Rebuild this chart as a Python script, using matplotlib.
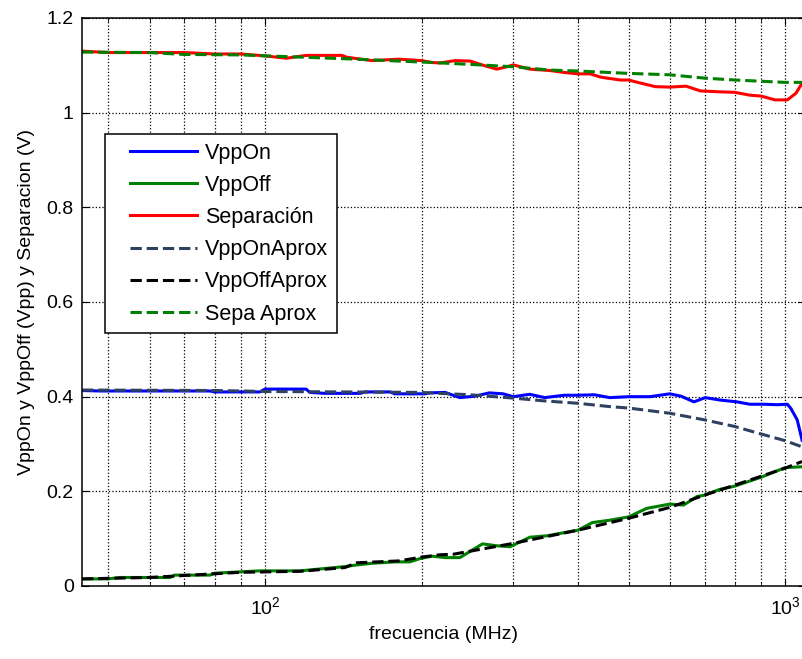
import numpy as np
import matplotlib
matplotlib.use("Agg")
import matplotlib.pyplot as plt
from matplotlib.ticker import FixedLocator, FuncFormatter, LogLocator, NullFormatter
from matplotlib.legend_handler import HandlerLine2D

plt.rcParams['font.family'] = ['Liberation Sans', 'DejaVu Sans']
plt.rcParams['mathtext.fontset'] = 'custom'
plt.rcParams['mathtext.rm'] = 'Liberation Sans'
plt.rcParams['mathtext.it'] = 'Liberation Sans'

# Separacion (red) and its approximation (green dashed)
sep_f = [44.5, 50, 70, 80, 90, 100, 110, 120, 140.6, 143.8, 160.6, 180.9, 200, 209.6,
         217, 232, 248, 265, 279, 292, 300, 323, 353, 376, 400, 422, 442, 482, 500,
         525, 563, 600, 645, 687, 748, 800, 855, 900, 956, 1010, 1049, 1078]
sep_v = [1.130, 1.127, 1.127, 1.124, 1.124, 1.120, 1.115, 1.121, 1.121, 1.117, 1.110,
         1.113, 1.110, 1.106, 1.105, 1.110, 1.109, 1.099, 1.092, 1.097, 1.101, 1.092,
         1.089, 1.085, 1.082, 1.082, 1.075, 1.069, 1.069, 1.063, 1.055, 1.054, 1.056,
         1.046, 1.044, 1.043, 1.037, 1.035, 1.027, 1.027, 1.041, 1.062]

sepa_f = [44.5, 60, 70, 90, 100, 120, 150, 180.9, 209.6, 248, 300, 353, 400, 500,
          600, 700, 800, 1000, 1078]
sepa_v = [1.128, 1.127, 1.123, 1.122, 1.120, 1.117, 1.113, 1.109, 1.106, 1.102,
          1.097, 1.090, 1.088, 1.083, 1.080, 1.073, 1.069, 1.064, 1.064]

# VppOn (blue) and its approximation
on_f = [44.5, 48.2, 78.4, 80, 97.8, 100, 120, 122, 130.4, 152.4, 155.7, 174, 177.7,
        203, 207.6, 222, 237, 253, 270, 287, 300, 323, 345, 376, 400, 430, 460, 502,
        550, 600, 631, 668, 702, 748, 808, 855, 912, 966, 1010, 1026, 1055, 1078]
on_v = [0.413, 0.412, 0.412, 0.410, 0.410, 0.416, 0.416, 0.409, 0.407, 0.407, 0.410,
        0.410, 0.406, 0.406, 0.408, 0.409, 0.398, 0.401, 0.408, 0.406, 0.400, 0.405,
        0.398, 0.403, 0.403, 0.404, 0.398, 0.400, 0.400, 0.406, 0.401, 0.389, 0.398,
        0.393, 0.389, 0.384, 0.384, 0.383, 0.384, 0.375, 0.351, 0.308]

onap_f = [44.5, 80, 100, 200, 207.6, 248, 300, 345, 400, 460, 500, 600, 700, 800,
          900, 1000, 1078]
onap_v = [0.414, 0.413, 0.411, 0.409, 0.408, 0.404, 0.397, 0.391, 0.386, 0.379,
          0.376, 0.365, 0.351, 0.337, 0.321, 0.307, 0.294]

# VppOff (green) and its approximation (black dashed)
off_f = [44.5, 50, 52.6, 65.7, 67.1, 78.4, 80, 90, 97.8, 116.8, 127.6, 142.5, 148.9,
         160.6, 177.7, 190, 198.7, 209.6, 222, 237, 262, 279, 296, 323, 348, 400,
         426, 460, 500, 542, 600, 638, 677, 700, 748, 800, 900, 1000, 1078]
off_v = [0.015, 0.015, 0.018, 0.018, 0.023, 0.023, 0.027, 0.030, 0.032, 0.032, 0.036,
         0.041, 0.044, 0.048, 0.051, 0.051, 0.058, 0.063, 0.060, 0.060, 0.089, 0.085,
         0.083, 0.103, 0.106, 0.118, 0.134, 0.139, 0.146, 0.164, 0.173, 0.171, 0.189,
         0.192, 0.204, 0.211, 0.230, 0.250, 0.252]

offap_f = [44.5, 60, 90, 116.8, 142.5, 150, 180.9, 200, 217, 230, 300, 400, 500,
           600, 700, 800, 900, 1000, 1078]
offap_v = [0.015, 0.018, 0.029, 0.031, 0.039, 0.049, 0.053, 0.061, 0.066, 0.067,
           0.090, 0.118, 0.143, 0.166, 0.192, 0.213, 0.232, 0.249, 0.263]

y_ticks = [0, 0.2, 0.4, 0.6, 0.8, 1.0, 1.2]


# legend line sits a bit right of the box edge, like matlab
class InsetLine(HandlerLine2D):
    def get_xdata(self, legend, xdescent, ydescent, width, height, fontsize):
        shift = 0.76 * fontsize
        return [-xdescent + shift, -xdescent + width], [-xdescent + 0.5 * width]


fig = plt.figure(figsize=(8.02, 6.59), dpi=100)
ax = fig.add_axes([82 / 802, 1 - 586 / 659, 723 / 802, 568 / 659])

ax.plot(on_f, on_v, color=(0, 0, 1), lw=2.2, label='VppOn')
ax.plot(off_f, off_v, color=(0, 0.5, 0), lw=2.2, label='VppOff')
ax.plot(sep_f, sep_v, color=(1, 0, 0), lw=2.2, label='Separación')
ax.plot(onap_f, onap_v, color='#2E4163', lw=2.2, ls='--', label='VppOnAprox')
ax.plot(offap_f, offap_v, color='black', lw=2.2, ls='--', label='VppOffAprox')
ax.plot(sepa_f, sepa_v, color=(0, 0.5, 0), lw=2.2, ls='--', label='Sepa Aprox')

ax.set_xscale('log')
ax.set_xlim(44.5, 1092)
ax.set_ylim(0, 1.2)
ax.yaxis.set_major_locator(FixedLocator(y_ticks))
ax.yaxis.set_major_formatter(FuncFormatter(lambda v, p: '%g' % v))
ax.xaxis.set_minor_locator(LogLocator(base=10, subs=np.arange(2, 10)))
ax.xaxis.set_minor_formatter(NullFormatter())

ax.grid(True, which='both', axis='x', color='black', ls=':', lw=0.9)
ax.grid(True, which='major', axis='y', color='black', ls=':', lw=0.9)
ax.tick_params(which='both', direction='in', top=True, right=True, labelsize=14)
ax.tick_params(axis='y', pad=6)
ax.tick_params(axis='x', pad=7)
ax.tick_params(which='major', length=5)
ax.tick_params(which='minor', length=3)
for s in ax.spines.values():
    s.set_linewidth(1.1)

ax.set_xlabel('frecuencia (MHz)', fontsize=14, labelpad=6)
ax.set_ylabel('VppOn y VppOff (Vpp) y Separacion (V)', fontsize=14, labelpad=8)

leg = ax.legend(loc='upper left', bbox_to_anchor=(23 / 723, (586 - 134) / 568),
                borderaxespad=0, fancybox=False, edgecolor='black', framealpha=1,
                fontsize=15.5, handlelength=3.88, handletextpad=0.37, labelspacing=0.52,
                handler_map={plt.Line2D: InsetLine()})
leg.get_frame().set_linewidth(1.1)

fig.savefig('out.png', dpi=100)
